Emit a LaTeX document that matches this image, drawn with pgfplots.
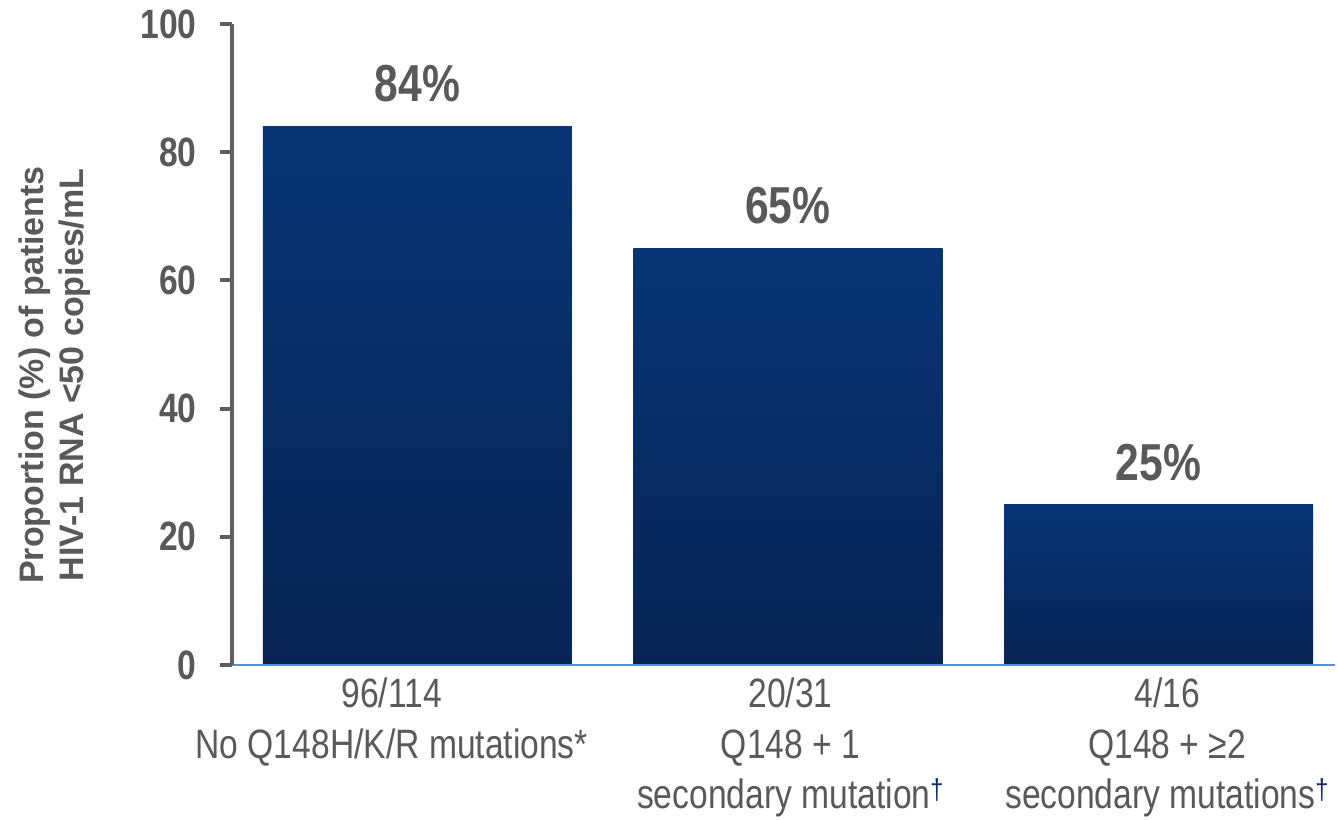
\documentclass[border=0pt]{standalone}
\usepackage{fontspec}
\setmainfont{Liberation Sans}
\newfontfamily\narrowfont[FakeStretch=0.82]{Liberation Sans}
\usepackage{pgfplots}
\pgfplotsset{compat=1.18}
\definecolor{txtgray}{RGB}{89,89,89}
\definecolor{axgray}{RGB}{95,95,95}
\definecolor{barTop}{RGB}{6,52,117}
\definecolor{barBot}{RGB}{9,36,84}
\definecolor{xline}{RGB}{91,142,214}
\definecolor{dagcol}{RGB}{10,40,105}
\newcommand\dg{\textsuperscript{\color{dagcol}†}}

\begin{document}
\begin{tikzpicture}
\begin{axis}[
  at={(0,0)}, anchor=south west,
  scale only axis, width=1103pt, height=641pt,
  xmin=-0.5, xmax=2.476, ymin=0, ymax=100,
  axis x line=bottom, axis y line=left,
  axis line style={-},
  x axis line style={draw=xline, line width=2pt},
  y axis line style={draw=axgray, line width=4.5pt},
  axis on top,
  /pgf/number format/assume math mode=true,
  ytick={0,20,40,60,80,100},
  tick align=outside,
  major tick length=12pt,
  ytick style={draw=axgray, line width=4pt},
  xtick style={draw=none},
  yticklabel style={xshift=-20pt,
    font=\narrowfont\bfseries\fontsize{41}{41}\selectfont, text=txtgray},
  xtick={-0.069,1.007,2.023},
  xticklabels={{96/114\\No Q148H/K/R mutations*},
               {20/31\\Q148 + 1\\secondary mutation\dg},
               {4/16\\Q148 + ≥2\\secondary mutations\dg}},
  xticklabel style={align=center, inner sep=0pt, yshift=-1pt,
    font=\narrowfont\fontsize{41}{50.5}\selectfont, text=txtgray},
  ylabel={Proportion (\%) of patients\\HIV-1 RNA <50 copies/mL},
  every axis y label/.style={at={(axis description cs:-0.1605,0.4524)},
    rotate=90, anchor=center, align=center,
    font=\bfseries\fontsize{34}{40}\selectfont, text=txtgray},
  every node near coord/.append style={anchor=south, inner sep=0pt, yshift=24pt,
    font=\narrowfont\bfseries\fontsize{52}{52}\selectfont, text=txtgray},
]
% one plot per bar so each bar carries its own vertical gradient
\addplot[ybar, bar width=0.834, bar shift=0pt, draw=none,
  top color=barTop, bottom color=barBot,
  nodes near coords={\pgfmathprintnumber{\pgfplotspointmeta}\%}]
  coordinates {(0,84)};
\addplot[ybar, bar width=0.834, bar shift=0pt, draw=none,
  top color=barTop, bottom color=barBot,
  nodes near coords={\pgfmathprintnumber{\pgfplotspointmeta}\%}]
  coordinates {(1,65)};
\addplot[ybar, bar width=0.834, bar shift=0pt, draw=none,
  top color=barTop, bottom color=barBot,
  nodes near coords={\pgfmathprintnumber{\pgfplotspointmeta}\%}]
  coordinates {(2,25)};
\end{axis}
\pgfresetboundingbox
\path (-232pt,-154pt) rectangle (1106pt,665pt);
\end{tikzpicture}
\end{document}
